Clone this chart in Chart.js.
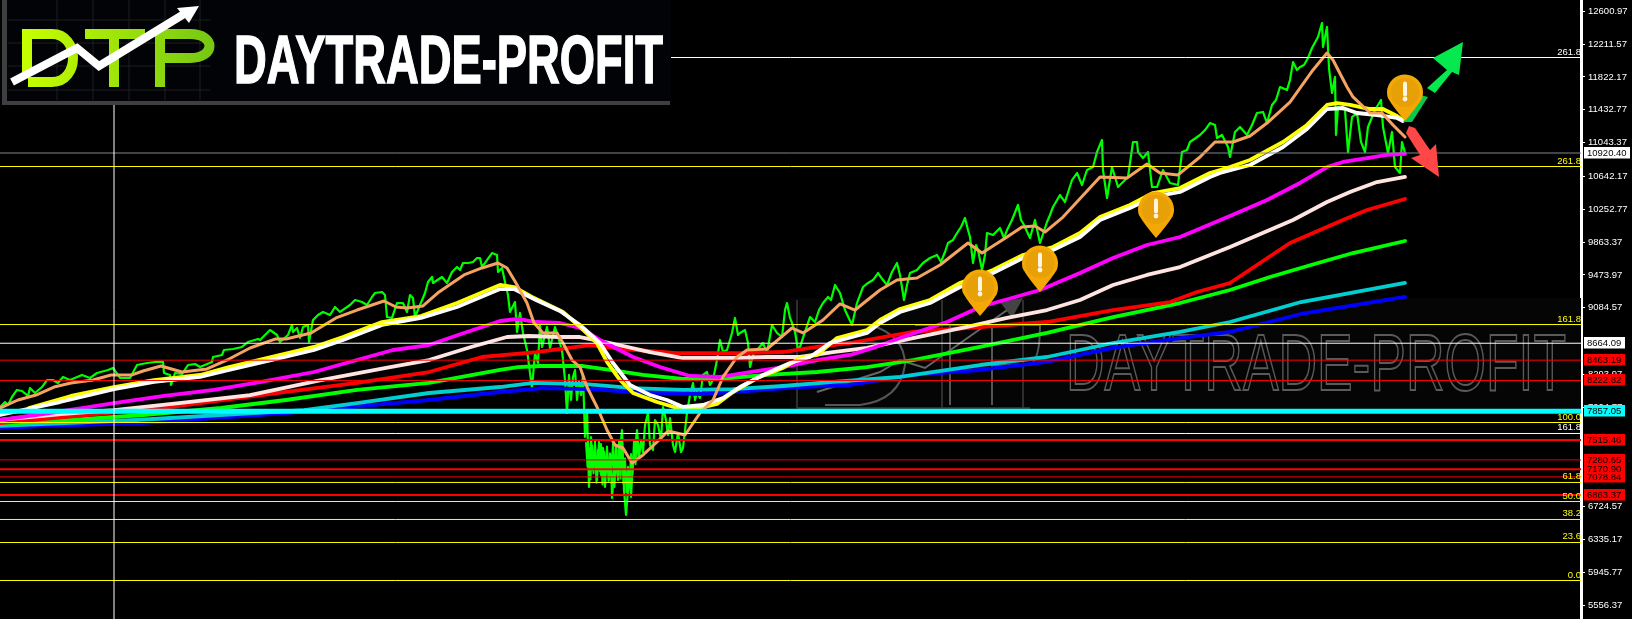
<!DOCTYPE html>
<html><head><meta charset="utf-8">
<style>html,body{margin:0;padding:0;background:#000}canvas{display:block}</style>
<script src="https://cdn.jsdelivr.net/npm/chart.js@4"></script>
</head><body><canvas id="c" width="1632" height="619"></canvas>
<script>
const tickValues=[12600.97,12211.57,11822.17,11432.77,11043.37,10642.17,10252.77,9863.37,9473.97,9084.57,8293.97,7904.77,6724.57,6335.17,5945.77,5556.37];
const priceX=[0,5,8,12,17,22,28,30,35,42,47,53,58,63,70,82,90,97,108,113,120,130,137,147,155,163,164,170,171,175,182,188,195,200,212,213,222,224,233,242,248,258,260,267,270,277,280,288,292,293,297,300,303,308,309,313,318,323,330,335,340,350,355,362,367,372,375,382,385,387,392,397,403,407,410,413,415,420,425,428,432,433,442,447,452,457,460,463,468,473,477,480,482,487,492,497,498,502,505,508,510,515,517,520,523,527,532,535,538,540,542,547,550,555,562,565,567,569,571,573,575,577,579,581,583,585,587,589,591,593,595,597,599,601,603,605,607,609,611,612,614,616,618,620,622,624,626,628,629,631,633,635,637,639,641,643,645,648,650,653,655,658,661,663,666,668,670,673,675,678,681,683,687,690,693,695,697,700,703,707,710,713,717,720,723,727,732,735,738,740,745,748,750,754,757,763,767,772,777,782,785,787,790,792,795,798,800,805,810,815,819,823,828,831,835,840,845,852,857,863,868,873,878,883,887,892,897,900,904,907,910,917,923,930,937,941,945,948,953,957,961,965,968,970,973,976,978,982,985,987,993,1000,1004,1007,1012,1018,1021,1023,1030,1035,1040,1047,1050,1053,1060,1065,1072,1077,1082,1087,1093,1097,1102,1103,1107,1112,1118,1128,1133,1137,1138,1143,1148,1152,1157,1163,1170,1178,1182,1187,1190,1200,1205,1210,1215,1217,1222,1228,1230,1235,1240,1247,1252,1257,1263,1267,1272,1276,1280,1287,1290,1293,1297,1300,1304,1308,1312,1318,1322,1323,1327,1329,1332,1335,1336,1338,1345,1348,1352,1357,1361,1365,1368,1375,1381,1383,1388,1392,1395,1400,1402,1405];
const priceValues=[7908,7967,7932,8027,8110,8098,8039,8133,8074,8145,8228,8228,8193,8264,8228,8288,8252,8311,8347,8371,8252,8252,8406,8430,8442,8442,8311,8288,8169,8311,8299,8406,8418,8382,8442,8501,8525,8584,8596,8620,8679,8714,8703,8786,8821,8762,8679,8762,8881,8798,8845,8726,8857,8881,8679,8940,8999,9035,8999,9094,9035,9118,9177,9153,9118,9213,9260,9272,9236,8975,8964,9141,9141,9035,9236,9201,8975,9118,9260,9390,9450,9379,9450,9379,9509,9568,9533,9616,9616,9628,9675,9675,9568,9651,9734,9711,9509,9557,9390,9236,9035,9153,8798,9023,8786,8584,8133,8548,8430,8881,8620,8857,8608,8857,8584,8228,7837,8288,7991,8264,8347,7991,8205,8050,8288,7552,7872,6959,7552,7161,7457,7042,7493,7102,7422,6959,7398,7042,7339,6829,7161,7457,7042,7398,7635,6924,6627,6924,7161,6841,7279,7374,7635,7303,7517,7374,7695,7837,7457,7398,7754,7695,7517,7908,7754,7576,7777,7457,7374,7600,7374,7422,7837,8050,8193,7991,8086,8015,8288,8323,8169,8228,8465,8703,8560,8584,8786,8964,8762,8786,8821,8667,8382,8560,8584,8667,8548,8881,8786,8738,9058,9141,8964,8904,8798,8584,8620,8798,8975,8916,9058,9141,9213,9177,9355,9260,9058,8881,9141,9331,9379,9414,9497,9414,9355,9509,9616,9474,9177,9355,9497,9533,9616,9675,9711,9628,9746,9853,9889,9971,10043,10150,10007,9924,9616,9829,9770,9533,9711,9971,9948,10031,9912,10007,10126,10304,10126,10090,9912,10126,9853,10102,10185,10280,10422,10339,10600,10683,10541,10719,10754,10932,11075,10719,10387,10754,10517,10636,11051,11051,10932,10861,10932,10517,10517,10719,10565,10541,10932,10956,11051,11134,11193,11276,11253,11098,11134,10992,10873,11170,11229,11134,11253,11395,11407,11276,11490,11549,11703,11668,11786,11999,11905,11940,11964,12047,12166,12296,12462,12178,12415,11928,11632,11822,11134,11466,11430,10932,11347,11395,11051,10932,11229,11430,11549,11229,10920,11170,10754,10683,11051,10920];
const wickX=[586,587.5,589,590.5,592,593.5,595,596.5,598,599.5,601,602.5,604,605.5,607,608.5,610,611.5,613,614.5,616,617.5,619,620.5,622,623.5,625,626.5,628,629.5,631,632.5,634,635.5,637,638.5];
const wickValues=[7480,7200,7420,7050,7450,7120,7500,7010,7400,7150,7470,6990,7380,7120,7440,7030,7360,7180,7480,6960,7340,7100,7500,7060,7450,7000,7300,6900,7200,7010,7350,7120,7520,7230,7600,7300];
const orangeX=[0,18,36,54,71,93,111,132,143,161,182,207,229,250,275,286,311,336,357,384,396,407,423,439,464,482,498,507,516,527,534,543,557,563,572,580,587,597,607,615,623,632,643,657,668,685,700,713,723,737,747,767,780,792,803,823,840,855,880,897,917,940,968,982,1007,1022,1035,1045,1063,1100,1127,1147,1160,1178,1200,1215,1233,1250,1267,1290,1313,1327,1333,1347,1353,1370,1382,1393,1405];
const orangeValues=[7896,7991,8050,8145,8193,8228,8288,8288,8335,8394,8323,8359,8477,8608,8714,8714,8786,8964,9058,9165,9094,9082,9106,9272,9474,9557,9616,9557,9379,9141,8904,8786,8786,8667,8465,8382,8145,7908,7635,7457,7422,7244,7339,7493,7623,7576,7837,7991,8264,8501,8584,8596,8726,8845,8786,8940,9130,9058,9296,9414,9438,9592,9853,9734,9924,10043,10055,9983,10161,10636,10624,10790,10683,10660,10873,11051,11051,11122,11276,11525,11905,12106,12023,11703,11585,11395,11395,11253,11110];
const yellowX=[29,71,114,154,200,229,271,314,343,382,421,457,500,514,532,563,580,597,607,620,633,657,677,700,717,733,757,783,800,817,837,867,880,900,930,960,993,1023,1053,1080,1100,1130,1153,1180,1210,1230,1250,1283,1307,1327,1337,1350,1370,1383,1397,1403];
const yellowValues=[7896,8039,8145,8228,8288,8382,8501,8620,8738,8916,8987,9141,9355,9331,9213,9035,8857,8667,8442,8228,8074,7967,7896,7896,7944,8086,8252,8371,8489,8525,8726,8821,8940,9070,9177,9379,9533,9711,9806,9972,10161,10304,10446,10505,10683,10754,10837,11051,11253,11490,11513,11490,11442,11442,11359,11312];
const whiteX=[0,60,114,154,200,229,271,314,343,382,421,457,500,514,536,560,580,600,613,630,650,667,683,703,723,740,763,790,810,830,867,880,900,930,960,993,1023,1053,1080,1100,1130,1153,1180,1210,1220,1250,1283,1307,1327,1343,1357,1377,1397,1403];
const whiteValues=[7813,7967,8121,8205,8264,8347,8465,8584,8703,8881,8964,9094,9307,9307,9177,9047,8881,8667,8430,8169,8050,7991,7908,7932,8015,8145,8288,8430,8501,8667,8786,8904,9035,9141,9331,9497,9675,9770,9924,10126,10268,10399,10458,10636,10683,10778,10992,11205,11442,11454,11395,11371,11336,11300];
const magentaX=[0,43,82,114,164,214,261,314,357,393,429,464,500,518,536,560,580,600,633,660,690,720,750,783,817,850,873,900,947,980,1040,1080,1113,1147,1180,1230,1267,1300,1327,1343,1367,1387,1405];
const magentaValues=[7754,7825,7896,7955,8039,8110,8205,8323,8465,8584,8643,8786,8928,8952,8916,8904,8845,8703,8501,8382,8276,8264,8323,8382,8465,8525,8608,8726,8916,9094,9296,9497,9675,9829,9924,10173,10363,10565,10754,10814,10861,10897,10909];
const roseX=[0,61,114,179,250,321,386,429,471,507,529,560,580,610,650,683,733,767,800,833,867,913,967,1007,1047,1080,1113,1147,1180,1230,1293,1327,1350,1377,1405];
const roseValues=[7754,7825,7872,7955,8050,8228,8371,8465,8620,8738,8750,8738,8738,8667,8560,8489,8489,8501,8501,8560,8608,8726,8857,8964,9058,9177,9355,9474,9568,9806,10126,10339,10458,10576,10636];
const redX=[0,107,179,286,357,429,482,536,590,623,677,740,783,817,850,913,980,1047,1113,1170,1197,1230,1290,1343,1367,1405];
const redValues=[7718,7837,7920,8086,8193,8323,8501,8560,8643,8596,8548,8548,8560,8620,8667,8798,8857,8916,9058,9153,9272,9379,9853,10126,10244,10375];
const greenX=[0,71,143,221,286,357,429,500,518,540,583,610,643,683,717,767,817,867,913,980,1047,1113,1180,1230,1270,1311,1353,1405];
const greenValues=[7706,7754,7813,7896,7991,8110,8193,8347,8382,8394,8394,8347,8288,8240,8240,8288,8323,8382,8465,8620,8786,8975,9141,9296,9450,9592,9734,9877];
const cyanX=[0,136,304,357,429,500,533,583,633,683,733,783,833,900,980,1047,1113,1180,1230,1301,1405];
const cyanValues=[7683,7754,7872,7955,8074,8145,8193,8181,8133,8110,8121,8157,8205,8264,8406,8501,8667,8798,8916,9153,9379];
const blueX=[0,46,143,214,286,375,429,500,543,590,633,700,750,800,850,913,980,1047,1113,1180,1230,1301,1405];
const blueValues=[7659,7683,7718,7777,7837,7932,7991,8086,8133,8121,8086,8062,8098,8145,8169,8288,8347,8442,8608,8726,8798,9011,9213];

const levelValues=[12053,10920.40,10760,8886,8664.09,8463.19,8222.82,7857.05,7724,7594,7515.46,7280.65,7170.90,7078.84,7013,6863.37,6787,6574,6301,5850];
const levelColors=['#ffffff','#808890','#ffff00','#ffff00','#ffffff','#ff0000','#ff0000','#00ffff','#ffff00','#ffffff','#ff0000','#e00000','#ff0000','#ff0000','#ffff00','#ff0000','#ffff00','#ffff00','#ffff00','#ffff00'];
const levelWidths=[1,1,1,1,1,1,1,5,1,1,2,1,2,1,1,2,1,1,1,1];
const levelLabels=['261.8','','261.8','161.8','','','','','100.0','161.8','','','','','61.8','','50.0','38.2','23.6','0.0'];
const tagValues=[10920.40,8664.09,8463.19,8222.82,7857.05,7515.46,7280.65,7078.84,7170.90,6863.37];
const tagColors=['#ffffff','#ffffff','#ff0000','#ff0000','#00ffff','#ff0000','#ff0000','#ff0000','#ff0000','#ff0000'];
const pinX=[980,1040,1156,1405];
const pinValues=[8987,9272,9912,11300];
const cursorX=114;
const xMax=1581, yMax=12735, yMin=5393.66;

const pts=(xs,ys)=>xs.map((x,i)=>({x,y:ys[i]}));
const ma=(label,xs,ys,color,w,order)=>({label,data:pts(xs,ys),borderColor:color,borderWidth:w,pointRadius:0,tension:0,order,borderJoinStyle:'round',borderCapStyle:'round'});
const datasets=[
 ma('Price',priceX,priceValues,'#00ff00',2.2,90),
 ma('Price range',wickX,wickValues,'#00ff00',2,91),
 ma('MA blue',blueX,blueValues,'#0000ff',3.8,80),
 ma('MA cyan',cyanX,cyanValues,'#00ced1',3.8,79),
 ma('MA green',greenX,greenValues,'#00ff00',3.8,78),
 ma('MA red',redX,redValues,'#ff0000',3.8,77),
 ma('MA rose',roseX,roseValues,'#ffe4e1',3.8,76),
 ma('MA magenta',magentaX,magentaValues,'#ff00ff',3.8,75),
 ma('MA yellow',yellowX,yellowValues,'#ffff00',3.8,74),
 ma('MA white',whiteX,whiteValues,'#ffffff',3.8,73),
 ma('MA orange',orangeX,orangeValues,'#f4a460',3,70)
];
levelValues.forEach((v,i)=>datasets.push({label:'level '+v,data:[{x:0,y:v},{x:xMax,y:v}],borderColor:levelColors[i],borderWidth:levelWidths[i],pointRadius:0,tension:0,order:levelWidths[i]===5?5:40}));
datasets.push({label:'cursor',data:[{x:cursorX,y:yMin},{x:cursorX,y:yMax}],borderColor:'#ffffff',borderWidth:1,pointRadius:0,order:4});

const NARROW='"Liberation Sans Narrow","Liberation Sans",sans-serif';
function fitText(ctx,text,x,y,w,font,stroke){
  ctx.save();ctx.font=font;ctx.textAlign='left';ctx.textBaseline='alphabetic';
  const m=ctx.measureText(text).width;ctx.translate(x,y);ctx.scale(w/m,1);
  if(stroke)ctx.strokeText(text,0,0);else ctx.fillText(text,0,0);ctx.restore();
}
function poly(ctx,p,color){ctx.fillStyle=color;ctx.beginPath();p.forEach((q,i)=>i?ctx.lineTo(q[0],q[1]):ctx.moveTo(q[0],q[1]));ctx.closePath();ctx.fill();}

const watermark={id:'watermark',beforeDatasetsDraw(ch){
  const c=ch.ctx;c.save();
  c.fillStyle='#050505';c.fillRect(790,298,791,112);
  c.strokeStyle='#5a5a5a';c.lineWidth=2;
  fitText(c,'DAYTRADE-PROFIT',1066,390,500,'80px '+NARROW,true);
  c.strokeStyle='#3c3c3c';c.lineWidth=1.5;
  c.beginPath();
  [797,942,1023].forEach(x=>{c.moveTo(x,300);c.lineTo(x,408);});
  c.moveTo(797,408);c.lineTo(1030,408);
  c.stroke();
  c.strokeStyle='#555';c.lineWidth=2;
  c.beginPath();
  c.moveTo(815,325);c.lineTo(870,325);c.quadraticCurveTo(905,335,905,365);c.quadraticCurveTo(900,400,860,405);c.lineTo(825,405);
  c.moveTo(915,325);c.lineTo(985,325);c.moveTo(950,325);c.lineTo(950,405);
  c.moveTo(990,325);c.lineTo(1040,325);c.quadraticCurveTo(1040,360,1030,365);c.lineTo(992,365);c.moveTo(992,325);c.lineTo(992,405);
  c.stroke();
  c.strokeStyle='#666';c.lineWidth=2;
  c.beginPath();c.moveTo(817,392);c.lineTo(880,372);c.lineTo(900,360);c.lineTo(925,368);c.lineTo(1010,308);c.stroke();
  poly(c,[[1023,298],[1000,302],[1012,318]],'#444');
  c.restore();
}};

const overlay={id:'overlay',afterDraw(ch){
  const c=ch.ctx,y=ch.scales.y,x=ch.scales.x;
  c.save();
  c.font='9.5px "Liberation Sans"';c.textAlign='right';c.textBaseline='alphabetic';
  levelValues.forEach((v,i)=>{if(!levelLabels[i])return;c.fillStyle=levelColors[i];c.fillText(levelLabels[i],1581,y.getPixelForValue(v)-3);});
  c.textAlign='left';c.textBaseline='middle';
  tagValues.forEach((v,i)=>{const py=Math.round(y.getPixelForValue(v));const wide=i===0?46:41;
    c.fillStyle=tagColors[i];c.fillRect(1584,py-6,wide,11.5);
    c.fillStyle='#000';c.fillText(v.toFixed(2),1587,py);});
  poly(c,[[1463,42],[1433,58],[1447,70],[1427,88],[1435,93],[1452,72],[1459,75]],'#05e94f');
  poly(c,[[1428,97],[1412,122],[1403,122],[1420,95]],'#08c94a');
  poly(c,[[1406,133],[1420,155],[1411,158],[1439,177],[1436,144],[1430,150],[1415,128],[1409,126]],'#ff4747');
  pinX.forEach((px,i)=>{
    const tx=x.getPixelForValue(px),ty=y.getPixelForValue(pinValues[i]),cy=ty-28.5;
    c.fillStyle='#f4a805';c.beginPath();c.arc(tx,cy,18,Math.PI*0.88,Math.PI*0.12);
    c.quadraticCurveTo(tx+12,ty-14,tx,ty);c.quadraticCurveTo(tx-12,ty-14,tx-17.2,cy+5.3);c.closePath();c.fill();
    c.fillStyle='#e8a008';c.beginPath();c.arc(tx,cy,14.5,0,Math.PI*2);c.fill();
    c.strokeStyle='#fff5e0';c.lineWidth=4;c.lineCap='round';c.beginPath();c.moveTo(tx,cy-9);c.lineTo(tx,cy+2);c.stroke();
    c.fillStyle='#fff5e0';c.beginPath();c.arc(tx,cy+6.5,2.4,0,Math.PI*2);c.fill();
  });
  c.fillStyle='#020306';c.fillRect(0,0,671,105);
  c.fillStyle='#3f3f3f';c.fillRect(2,0,5,105);c.fillRect(2,101,668,4);
  c.strokeStyle='#1e1e1e';c.lineWidth=1;c.beginPath();
  [57,93,129,165,200].forEach(g=>{c.moveTo(g,0);c.lineTo(g,100);});
  [20,43,66,90].forEach(g=>{c.moveTo(8,g);c.lineTo(210,g);});c.stroke();
  const gr=c.createLinearGradient(20,0,212,0);gr.addColorStop(0,'#c8ff00');gr.addColorStop(1,'#76c814');
  c.strokeStyle=gr;c.lineWidth=10;c.lineCap='butt';c.beginPath();
  c.moveTo(27,34);c.lineTo(52,34);c.bezierCurveTo(80,34,80,82,52,82);c.lineTo(28,82);c.moveTo(27,29);c.lineTo(27,76);
  c.moveTo(85,34);c.lineTo(145,34);c.moveTo(114,34);c.lineTo(114,87);
  c.moveTo(160,87);c.lineTo(160,58);c.lineTo(190,58);c.bezierCurveTo(216,58,216,34,190,34);c.lineTo(160,34);c.lineTo(160,58);
  c.stroke();
  c.strokeStyle='#fff';c.lineWidth=8;c.lineJoin='miter';c.beginPath();c.moveTo(12,82);c.lineTo(77,48);c.lineTo(99,66);c.lineTo(184,14);c.stroke();
  poly(c,[[199,6],[177,8],[189,23]],'#fff');
  c.fillStyle='#fff';c.strokeStyle='#fff';c.lineWidth=1.5;c.lineJoin='miter';
  fitText(c,'DAYTRADE-PROFIT',234,83,429,'bold 68px '+NARROW,false);
  fitText(c,'DAYTRADE-PROFIT',234,83,429,'bold 68px '+NARROW,true);
  c.restore();
}};

new Chart(document.getElementById('c'),{
  type:'line',
  data:{datasets},
  plugins:[watermark,overlay,{id:'bg',beforeDraw(ch){ch.ctx.fillStyle='#000';ch.ctx.fillRect(0,0,1632,619);}}],
  options:{
    responsive:false,animation:false,parsing:true,
    layout:{padding:0},
    plugins:{legend:{display:false},tooltip:{enabled:false}},
    scales:{
      x:{type:'linear',display:false,min:0,max:xMax},
      y:{type:'linear',position:'right',min:yMin,max:yMax,
        afterFit(s){s.width=51;s.paddingTop=0;s.paddingBottom=0;},
        afterBuildTicks(s){s.ticks=tickValues.map(v=>({value:v}));},
        grid:{drawOnChartArea:false,drawTicks:true,tickLength:4,tickColor:'#ffffff',color:'#ffffff'},
        border:{color:'#ffffff',width:3},
        ticks:{color:'#ffffff',autoSkip:false,padding:3,maxRotation:0,font:{family:'"Liberation Sans"',size:9.5},callback:v=>v.toFixed(2)}
      }
    }
  }
});
</script></body></html>
